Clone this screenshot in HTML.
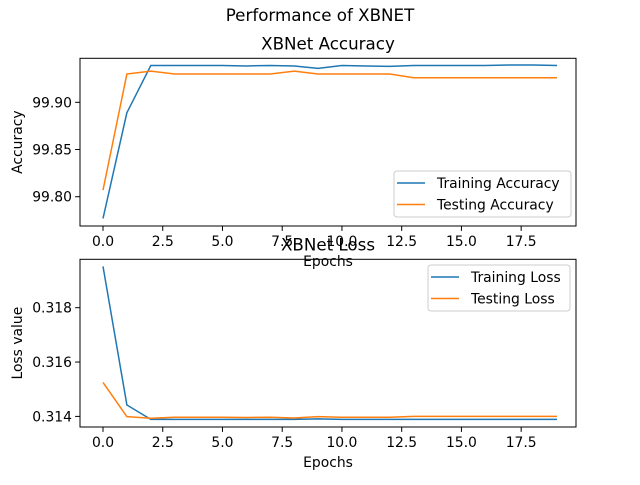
<!DOCTYPE html>
<html><head><meta charset="utf-8"><style>
body{margin:0;background:#fff;}
svg{font-family:"DejaVu Sans","Liberation Sans",sans-serif;}
</style></head><body>
<svg id="c" width="640" height="480" xmlns="http://www.w3.org/2000/svg">
<text x="320" y="21" font-size="16.7" text-anchor="middle">Performance of XBNET</text>
</svg>
<script>
const epochs=[0,1,2,3,4,5,6,7,8,9,10,11,12,13,14,15,16,17,18,19];
const trainAcc=[99.777,99.889,99.939,99.939,99.939,99.939,99.9385,99.939,99.9385,99.936,99.939,99.9385,99.938,99.939,99.939,99.939,99.939,99.9395,99.9395,99.939];
const testAcc=[99.807,99.930,99.933,99.930,99.930,99.930,99.930,99.930,99.933,99.930,99.930,99.930,99.930,99.926,99.926,99.926,99.926,99.926,99.926,99.926];
const trainLoss=[0.31952,0.31442,0.31389,0.31389,0.31389,0.31389,0.31389,0.31389,0.31389,0.31391,0.31389,0.31389,0.31389,0.31389,0.31389,0.31389,0.31389,0.31389,0.31389,0.31389];
const testLoss=[0.31525,0.31399,0.31393,0.31397,0.31397,0.31397,0.31396,0.31397,0.31394,0.31399,0.31397,0.31397,0.31397,0.31400,0.31400,0.31400,0.31400,0.31400,0.31400,0.31400];
const xTicks=[0,2.5,5,7.5,10,12.5,15,17.5];
const accTicks=[99.80,99.85,99.90];
const lossTicks=[0.314,0.316,0.318];
const svg=document.getElementById('c');
const NS='http://www.w3.org/2000/svg';
function mk(t,a){const e=document.createElementNS(NS,t);for(const k in a)e.setAttribute(k,a[k]);svg.appendChild(e);return e;}
const L=80,R=576;
const sx=v=>103+(v)*(557-103)/19;
function panel(top,bot,ymin,ymax,yt,dec,s1,s2,title,ylabel,n1,n2,legX,legY,legW,key){
  const sy=v=>bot-(v-ymin)/(ymax-ymin)*(bot-top);
  const p1=mk('polyline',{points:epochs.map((e,i)=>sx(e)+','+sy(s1[i])).join(' '),fill:'none',stroke:'#1f77b4','stroke-width':1.5});
  
  const p2=mk('polyline',{points:epochs.map((e,i)=>sx(e)+','+sy(s2[i])).join(' '),fill:'none',stroke:'#ff7f0e','stroke-width':1.5});
  
  const fr=mk('rect',{x:L,y:top,width:R-L,height:bot-top,fill:'none',stroke:'#000','stroke-width':1});
  
  xTicks.forEach(t=>{const x=sx(t);mk('line',{x1:x,x2:x,y1:bot,y2:bot+4.9,stroke:'#000','stroke-width':1});
    const tx=mk('text',{x:x,y:bot+20,'font-size':13.9,'text-anchor':'middle'});tx.textContent=t.toFixed(1);
    });
  yt.forEach(t=>{const y=sy(t);mk('line',{x1:L-4.9,x2:L,y1:y,y2:y,stroke:'#000','stroke-width':1});
    const tx=mk('text',{x:L-8,y:y+5,'font-size':13.9,'text-anchor':'end'});tx.textContent=t.toFixed(dec);
    });
  const ti=mk('text',{x:(L+R)/2,y:top-9,'font-size':16.7,'text-anchor':'middle'});ti.textContent=title;
  
  const xl=mk('text',{x:(L+R)/2,y:bot+40,'font-size':13.9,'text-anchor':'middle'});xl.textContent='Epochs';
  
  const cy=(top+bot)/2;
  const yl=mk('text',{x:22,y:cy,'font-size':13.9,'text-anchor':'middle',transform:'rotate(-90 22 '+cy+')'});yl.textContent=ylabel;
  
  const lg=mk('rect',{x:legX,y:legY,width:legW,height:46,fill:'#fff','fill-opacity':0.8,stroke:'#ccc',rx:3});
  
  [[n1,'#1f77b4'],[n2,'#ff7f0e']].forEach((d,i)=>{const y=legY+12+i*21.5;
    mk('line',{x1:legX+3,x2:legX+31,y1:y,y2:y,stroke:d[1],'stroke-width':1.5});
    const t=mk('text',{x:legX+43,y:y+5,'font-size':13.9});t.textContent=d[0];
    });
}
panel(58.3,226,99.769,99.9466,accTicks,2,trainAcc,testAcc,'XBNet Accuracy','Accuracy','Training Accuracy','Testing Accuracy',394,171,177,'accuracy');
panel(259.3,427,0.31361,0.31978,lossTicks,3,trainLoss,testLoss,'XBNet Loss','Loss value','Training Loss','Testing Loss',428,265,142,'loss');
</script>
</body></html>
